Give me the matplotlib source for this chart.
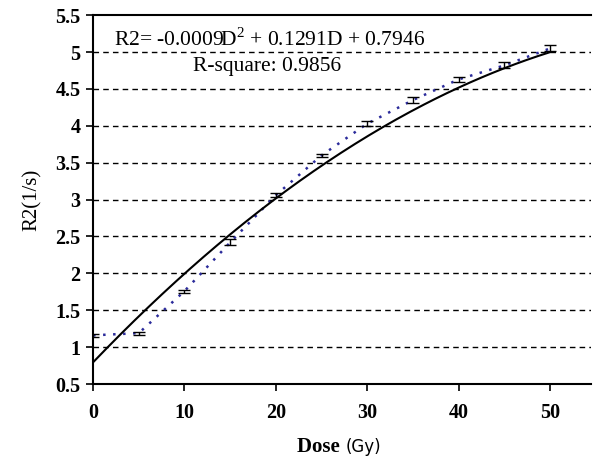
import numpy as np
import matplotlib.pyplot as plt

# Data
dose = [0, 5, 10, 15, 20, 25, 30, 35, 40, 45, 50]
r2 = [1.16, 1.19, 1.76, 2.42, 3.06, 3.60, 4.03, 4.35, 4.63, 4.82, 5.05]
r2_err = [0.02, 0.02, 0.02, 0.04, 0.03, 0.02, 0.03, 0.04, 0.03, 0.04, 0.04]
fit_coef = [-0.0009, 0.1291, 0.7946]
xticks = [0, 10, 20, 30, 40, 50]
yticks = [0.5, 1, 1.5, 2, 2.5, 3, 3.5, 4, 4.5, 5, 5.5]

serif = 'Liberation Serif'
plt.rcParams['mathtext.fontset'] = 'custom'
plt.rcParams['mathtext.rm'] = serif

fig = plt.figure(figsize=(5.93, 4.61), dpi=100)
ax = fig.add_axes([0.157, 0.167, 0.84, 0.8])

# horizontal dashed grid
for y in yticks[1:-1]:
    ax.axhline(y, color='black', lw=1.0, ls=(0, (4, 3)), zorder=1)

# quadratic fit line
d = np.linspace(0, 50, 200)
ax.plot(d, np.polyval(fit_coef, d), color='black', lw=1.5, zorder=3)

# measured points, dotted line + error bars
ax.plot(dose, r2, color='#2b2b9b', ls=(0, (1, 3)), lw=1.8, zorder=2)
ax.errorbar(dose, r2, yerr=r2_err, fmt='none', ecolor='black',
            elinewidth=1.0, capsize=4, capthick=1.0, zorder=4)

ax.set_xlim(0, 54.5)
ax.set_ylim(0.5, 5.5)
ax.set_xticks(xticks)
ax.set_yticks(yticks)
ax.set_yticklabels(['0.5', '1', '1.5', '2', '2.5', '3', '3.5', '4', '4.5', '5', '5.5'])
for lab in ax.get_xticklabels() + ax.get_yticklabels():
    lab.set_fontfamily(serif)
    lab.set_fontweight('bold')
    lab.set_fontsize(14.5)
ax.tick_params(axis='x', length=5, width=1.2, pad=9)
ax.tick_params(axis='y', length=5, width=1.2, pad=4)

ax.spines['right'].set_visible(False)
for s in ['left', 'bottom', 'top']:
    ax.spines[s].set_linewidth(1.5)

ax.set_ylabel('R2(1/s)', fontfamily=serif, fontsize=15, labelpad=10)
ax.text(0.506, -0.172, 'Dose ', transform=ax.transAxes, ha='right', va='center',
        fontfamily=serif, fontweight='bold', fontsize=15)
ax.text(0.506, -0.172, '(Gy)', transform=ax.transAxes, ha='left', va='center',
        fontfamily='DejaVu Sans', fontsize=12)

ax.text(2.3, 5.17, r'R2= -0.0009D$^{\mathregular{2}}$ + 0.1291D + 0.7946',
        fontfamily=serif, fontsize=15.5, va='center', ha='left')
ax.text(10.9, 4.8, 'R-square: 0.9856', fontfamily=serif, fontsize=15.5,
        va='center', ha='left')

fig.savefig('out.png', dpi=100)
